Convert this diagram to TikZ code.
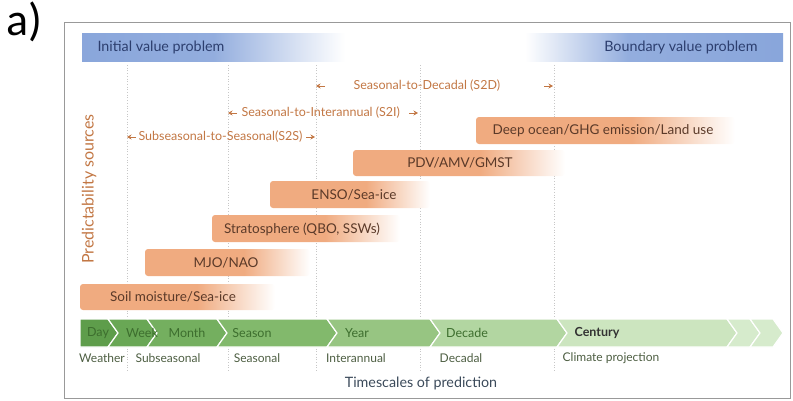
\documentclass[tikz,border=0pt]{standalone}
\usepackage{fontspec}
\setmainfont{Lato}
\newfontfamily\tagfont{Carlito}
\usetikzlibrary{arrows.meta, calc, positioning}
\definecolor{blueA}{HTML}{809FD8}
\definecolor{blueT}{HTML}{2C3E6E}
\definecolor{orA}{HTML}{F0AB80}
\definecolor{orT}{HTML}{5B3A29}
\definecolor{rngT}{HTML}{C27744}
\definecolor{g1}{HTML}{5E9D4B}
\definecolor{g2}{HTML}{69A755}
\definecolor{g3}{HTML}{74AF5F}
\definecolor{g4}{HTML}{82B96C}
\definecolor{g5}{HTML}{97C582}
\definecolor{g6}{HTML}{B2D6A1}
\definecolor{g7}{HTML}{CCE5BF}
\definecolor{g8}{HTML}{D6EBCC}
\definecolor{gT}{HTML}{3D6E2E}
\definecolor{subT}{HTML}{4D5E42}
\definecolor{axT}{HTML}{3B4A5A}
\pgfdeclarehorizontalshading{fadeO}{100bp}{color(0bp)=(orA); color(55bp)=(orA); color(75bp)=(white); color(100bp)=(white)}
\pgfdeclarehorizontalshading{fadeB}{100bp}{color(0bp)=(blueA); color(50bp)=(blueA!85); color(75bp)=(white); color(100bp)=(white)}
\pgfdeclarehorizontalshading{fadeBR}{100bp}{color(0bp)=(white); color(25bp)=(white); color(45bp)=(blueA!85); color(100bp)=(blueA)}

\begin{document}
\begin{tikzpicture}[x=1pt, y=-1pt,
    bar/.style={rounded corners=3pt, shading=fadeO},
    src/.style={text=orT, font=\fontsize{13.5}{15}\selectfont},
    rng/.style={text=rngT, font=\fontsize{12.5}{14}\selectfont},
    tip/.style={draw=rngT, line width=0.8pt, -{Stealth[length=4.5pt,width=5pt]}},
    tick/.style={draw=black!22, dotted, line width=0.7pt},
    seg/.style={draw=white, line width=1.2pt},
    span/.style={text=gT, font=\fontsize{12.5}{14}\selectfont},
    sub/.style={text=subT, font=\fontsize{12}{14}\selectfont}]
    \useasboundingbox (0,0) rectangle (793,400);
    \node[anchor=base west, inner sep=0pt, font=\tagfont\fontsize{46}{50}\selectfont] (tag) at (6,35) {a)};
    \draw[black!40] (64,22) rectangle (790,398);

    \shade[shading=fadeB] (82,33) rectangle (345,61);
    \shade[shading=fadeBR] (525,33) rectangle (783,61);
    \node[anchor=west, text=blueT, font=\fontsize{14.3}{16}\selectfont] (ivp) at (94,47) {Initial value problem};
    \node[anchor=east, text=blueT, font=\fontsize{14.3}{16}\selectfont] (bvp) at (761,47) {Boundary value problem};

    \foreach \x in {127, 228, 316, 420, 554}
        \draw[tick] (\x,65) -- (\x,372);

    \node[rng, anchor=west] (s2d) at (350,86) {Seasonal-to-Decadal (S2D)};
    \node[rng, anchor=west] (s2i) at (238,113) {Seasonal-to-Interannual (S2I)};
    \node[rng, anchor=west] (s2s) at (135,137) {Subseasonal-to-Seasonal(S2S)};
    \coordinate (s2dL) at (316,86);
    \coordinate (s2dR) at (553,86);
    \coordinate (s2iL) at (228,113);
    \coordinate (s2iR) at (418,113);
    \coordinate (s2sL) at (127,137);
    \coordinate (s2sR) at (315,137);
    \draw[tip] ($(s2dL)+(9,0)$) -- (s2dL);
    \draw[tip] ($(s2dR)+(-9,0)$) -- (s2dR);
    \draw[tip] ($(s2iL)+(9,0)$) -- (s2iL);
    \draw[tip] ($(s2iR)+(-9,0)$) -- (s2iR);
    \draw[tip] ($(s2sL)+(9,0)$) -- (s2sL);
    \draw[tip] ($(s2sR)+(-9,0)$) -- (s2sR);

    \shade[bar] (476,117) rectangle (735,144);
    \shade[bar] (353,150) rectangle (565,176);
    \shade[bar] (270,181) rectangle (430,208);
    \shade[bar] (212,215) rectangle (400,242);
    \shade[bar] (145,249) rectangle (310,276);
    \shade[bar] (80,284) rectangle (275,310);
    \node[src] (deep) at (603,131) {Deep ocean/GHG emission/Land use};
    \node[src] (pdv) at (460,163) {PDV/AMV/GMST};
    \node[src] (enso) at (354,195) {ENSO/Sea-ice};
    \node[src] (strat) at (302,229) {Stratosphere (QBO, SSWs)};
    \node[src] (mjo) at (226,263) {MJO/NAO};
    \node[src] (soil) at (173,297) {Soil moisture/Sea-ice};

    \node[rotate=90, text=rngT, font=\fontsize{16}{18}\selectfont] (ps) at (89,189) {Predictability sources};

    \fill[g1, seg] (80,319) -- (108,319) -- (118,333) -- (108,347) -- (80,347) -- cycle;
    \foreach \a/\b/\c in {118/157/g2, 157/227/g3, 227/337/g4, 337/440/g5, 440/567/g6, 567/737/g7, 737/760/g8, 760/783/g8}
        \fill[\c, seg] (\a-10,319) -- (\b-10,319) -- (\b,333) -- (\b-10,347) -- (\a-10,347) -- (\a,333) -- cycle;
    \node[span] (day) at (98,333) {Day};
    \node[span] (week) at (142,333) {Week};
    \node[span] (month) at (187,333) {Month};
    \node[span] (season) at (252,333) {Season};
    \node[span] (year) at (357,333) {Year};
    \node[span] (decade) at (467,333) {Decade};
    \node[span, text=black!80, font=\bfseries\fontsize{12.5}{14}\selectfont] (century) at (597,333) {Century};

    \node[sub] (wx) at (102,358) {Weather};
    \node[sub] (subs) at (168,358) {Subseasonal};
    \node[sub] (seas) at (257,358) {Seasonal};
    \node[sub] (inter) at (356,358) {Interannual};
    \node[sub] (dec) at (461,358) {Decadal};
    \node[sub] (clim) at (611,358) {Climate projection};
    \node[text=axT, font=\fontsize{14.3}{16}\selectfont] (axis) at (421,383) {Timescales of prediction};
\end{tikzpicture}
\end{document}
